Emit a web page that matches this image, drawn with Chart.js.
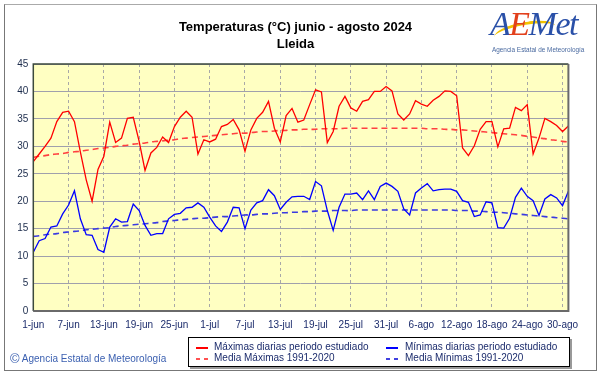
<!DOCTYPE html>
<html>
<head>
<meta charset="utf-8">
<script src="https://cdn.jsdelivr.net/npm/chart.js@4.4.1/dist/chart.umd.min.js"></script>
<style>
  html,body{margin:0;padding:0;background:#fff;}
  #wrap{position:relative;width:601px;height:374px;overflow:hidden;font-family:"Liberation Sans",Arial,sans-serif;}
  #frame{position:absolute;left:4px;top:4px;width:591px;height:365px;border:1px solid #777;border-top-color:#aaa;}
  canvas{position:absolute;left:0;top:0;}
  .title{position:absolute;left:0;width:591px;text-align:center;font-weight:bold;font-size:13px;color:#000;}
  #logo{position:absolute;left:488px;top:4px;width:108px;height:54px;}
  #logo .big{position:absolute;left:2px;top:0px;font-family:"Liberation Serif","DejaVu Serif",serif;font-style:italic;font-size:34px;line-height:40px;letter-spacing:-1.5px;}
  #logo .small{position:absolute;left:4px;top:42px;font-size:6.4px;color:#4a6aa0;white-space:nowrap;}
  #swoosh{position:absolute;left:6px;top:18px;width:62px;height:16px;border-top:3px solid #f2c200;border-radius:60% 60% 0 0;transform:rotate(-10deg);}
  #copy{position:absolute;left:10px;top:351px;font-size:10px;color:#3a5fb0;white-space:nowrap;}
  #copy .c{font-size:13px;vertical-align:-1px;}
  #legend{position:absolute;left:188px;top:337px;width:380px;height:28px;border:1px solid #000;box-shadow:2px 2px 0 #999;background:#fff;font-size:10px;color:#1c2c6c;}
  .li{position:absolute;white-space:nowrap;}
  .sw{position:absolute;width:12px;height:2px;}
  .dsh{position:absolute;width:4px;height:2px;}
</style>
</head>
<body>
<div id="wrap">
  <div id="frame"></div>
  <canvas id="c" width="601" height="374"></canvas>
  <div class="title" style="top:19px;">Temperaturas (°C) junio - agosto 2024</div>
  <div class="title" style="top:36px;">Lleida</div>
  <div id="logo">
    <div id="swoosh"></div>
    <div class="big"><span style="color:#2a50a8">A</span><span style="color:#e2401c">E</span><span style="color:#2a50a8">Met</span></div>
    <div class="small">Agencia Estatal de Meteorología</div>
  </div>
  <div id="copy"><span class="c">©</span> Agencia Estatal de Meteorología</div>
  <div id="legend">
    <div class="sw" style="left:7px;top:9px;background:#ff0000;"></div>
    <div class="li" style="left:25px;top:3px;">Máximas diarias periodo estudiado</div>
    <div class="sw" style="left:197px;top:9px;background:#0000ff;"></div>
    <div class="li" style="left:216px;top:3px;">Mínimas diarias periodo estudiado</div>
    <div class="dsh" style="left:7px;top:20px;background:#ff5050;"></div>
    <div class="dsh" style="left:15px;top:20px;background:#ff5050;"></div>
    <div class="li" style="left:25px;top:14px;">Media Máximas 1991-2020</div>
    <div class="dsh" style="left:197px;top:20px;background:#4040e0;"></div>
    <div class="dsh" style="left:205px;top:20px;background:#4040e0;"></div>
    <div class="li" style="left:216px;top:14px;">Media Mínimas 1991-2020</div>
  </div>
</div>
<script>
// ---- Data ----
const monthNames = ['jun','jul','ago'];
const monthDays = [30,31,31];
const categories = [];
monthNames.forEach((m,k)=>{ for(let d=1; d<=monthDays[k]; d++) categories.push(d+'-'+m); });

const tickLabels = ['1-jun','7-jun','13-jun','19-jun','25-jun','1-jul','7-jul','13-jul','19-jul','25-jul','31-jul','6-ago','12-ago','18-ago','24-ago','30-ago'];
const yTicks = [0,5,10,15,20,25,30,35,40,45];

const maxDaily = [27.2,28.6,30.0,31.5,34.5,36.2,36.4,34.5,29.0,23.9,
  20.0,25.8,28.2,34.4,30.7,31.5,35.1,35.3,30.9,25.6,
  28.8,29.8,31.7,30.7,33.6,35.3,36.4,35.3,28.6,31.2,
  30.8,31.3,33.6,34.0,34.9,33.0,29.1,33.0,35.1,36.2,
  38.2,33.3,30.8,35.6,36.9,34.4,34.8,37.6,40.3,39.9,
  30.7,32.7,37.3,39.1,37.0,36.4,38.2,38.5,40.0,40.0,
  40.9,40.1,35.9,34.8,35.9,38.3,37.7,37.3,38.4,39.1,
  40.1,40.0,39.2,29.7,28.3,30.1,33.1,34.5,34.5,29.9,
  33.2,33.3,37.1,36.5,37.6,28.6,31.5,35.1,34.5,33.8,
  32.7,33.7];

const minDaily = [10.7,12.8,13.2,15.3,15.5,17.7,19.3,21.9,16.8,13.9,
  13.8,11.2,10.7,15.3,16.8,16.2,16.3,19.5,18.3,15.6,
  13.8,14.1,14.1,16.8,17.6,17.8,18.8,18.9,19.7,18.9,
  17.1,15.5,14.5,16.2,18.9,18.8,15.0,18.4,19.7,20.1,
  22.1,21.0,18.5,19.8,20.8,20.9,20.9,20.3,23.6,22.8,
  18.3,14.7,18.9,21.3,21.3,21.5,20.3,21.9,20.3,22.7,
  23.3,22.7,21.8,18.6,17.5,21.5,22.4,23.2,21.9,22.1,
  22.2,22.2,21.8,20.1,19.8,17.2,17.5,19.9,19.7,15.2,
  15.1,16.9,20.7,22.4,20.9,20.1,17.4,20.4,21.2,20.6,
  19.2,21.8];

const maxNormal = [28.0,28.2,28.3,28.5,28.6,28.7,28.9,29.0,29.1,29.3,
  29.4,29.6,29.7,29.8,30.0,30.1,30.2,30.4,30.5,30.6,
  30.8,30.9,31.0,31.1,31.2,31.4,31.5,31.6,31.7,31.8,
  31.9,32.0,32.1,32.2,32.3,32.4,32.4,32.5,32.6,32.7,
  32.7,32.8,32.9,32.9,33.0,33.0,33.1,33.1,33.1,33.2,
  33.2,33.2,33.2,33.3,33.3,33.3,33.3,33.3,33.3,33.3,
  33.3,33.3,33.3,33.3,33.3,33.3,33.3,33.2,33.2,33.2,
  33.1,33.1,33.0,33.0,32.9,32.8,32.7,32.6,32.5,32.4,
  32.3,32.2,32.1,32.0,31.8,31.7,31.5,31.4,31.2,31.1,
  30.9,30.8];

const minNormal = [13.6,13.7,13.9,14.0,14.1,14.3,14.4,14.5,14.6,14.8,
  14.9,15.0,15.1,15.2,15.4,15.5,15.6,15.7,15.8,15.9,
  16.0,16.1,16.3,16.4,16.5,16.6,16.7,16.8,16.9,16.9,
  17.0,17.1,17.2,17.2,17.3,17.4,17.5,17.5,17.6,17.7,
  17.7,17.8,17.9,17.9,18.0,18.0,18.1,18.1,18.2,18.2,
  18.2,18.3,18.3,18.3,18.3,18.4,18.4,18.4,18.4,18.4,
  18.4,18.4,18.4,18.4,18.4,18.4,18.4,18.4,18.4,18.4,
  18.4,18.4,18.3,18.3,18.3,18.2,18.2,18.1,18.0,18.0,
  17.9,17.8,17.7,17.6,17.5,17.4,17.3,17.2,17.1,17.0,
  16.9,16.8];

// ---- Plugins ----
const bgPlugin = {
  id:'bg',
  beforeDraw(chart){
    const {ctx, chartArea:a} = chart;
    ctx.save();
    ctx.fillStyle = '#ffffc2';
    ctx.fillRect(a.left, a.top, a.right-a.left, a.bottom-a.top);
    ctx.restore();
  },
  afterDraw(chart){
    const {ctx, chartArea:a} = chart;
    ctx.save();
    ctx.lineWidth = 1.5;
    ctx.strokeStyle = '#3c4a3c';
    ctx.beginPath();
    ctx.moveTo(a.left, a.bottom); ctx.lineTo(a.left, a.top); ctx.lineTo(a.right, a.top);
    ctx.stroke();
    ctx.strokeStyle = '#6a6a6a';
    ctx.lineWidth = 2;
    ctx.beginPath();
    ctx.moveTo(a.right, a.top); ctx.lineTo(a.right, a.bottom); ctx.lineTo(a.left, a.bottom);
    ctx.stroke();
    ctx.restore();
  }
};

const lbl = 'Liberation Sans';
new Chart(document.getElementById('c'), {
  type:'line',
  data:{
    labels:categories,
    datasets:[
      {label:'Máximas diarias periodo estudiado', data:maxDaily, borderColor:'#ff0000', borderWidth:1.3, pointRadius:0, tension:0},
      {label:'Mínimas diarias periodo estudiado', data:minDaily, borderColor:'#0000ff', borderWidth:1.3, pointRadius:0, tension:0},
      {label:'Media Máximas 1991-2020', data:maxNormal, borderColor:'#ff4040', borderWidth:1.6, borderDash:[6,4], pointRadius:0, tension:0.3},
      {label:'Media Mínimas 1991-2020', data:minNormal, borderColor:'#3a3ae0', borderWidth:1.6, borderDash:[6,4], pointRadius:0, tension:0.3}
    ]
  },
  options:{
    responsive:false,
    animation:false,
    devicePixelRatio:1,
    layout:{padding:{left:4, right:32.6, top:64, bottom:38}},
    plugins:{legend:{display:false}, title:{display:false}, tooltip:{enabled:false}},
    scales:{
      x:{
        type:'category',
        offset:false,
        afterFit(s){ s.height = 25; },
        grid:{
          drawTicks:false,
          color:(c)=> (c.tick && tickLabels.includes(c.tick.label)) ? '#a8a8a8' : 'rgba(0,0,0,0)',
          lineWidth:1
        },
        border:{display:false, dash:[3,3]},
        ticks:{
          autoSkip:false, maxRotation:0, minRotation:0, padding:8,
          color:'#1c2c6c', font:{family:lbl, size:10},
          callback(v, i){ const l = categories[i]; return tickLabels.includes(l) ? l : ''; }
        }
      },
      y:{
        min:0, max:45,
        afterFit(s){ s.width = 29.3; },
        afterBuildTicks(s){ s.ticks = yTicks.map(v=>({value:v})); },
        grid:{drawTicks:false, color:'#a0a0ac', lineWidth:1},
        border:{display:false},
        ticks:{padding:5, color:'#1c2c4c', font:{family:lbl, size:10}}
      }
    }
  },
  plugins:[bgPlugin]
});
</script>
</body>
</html>
